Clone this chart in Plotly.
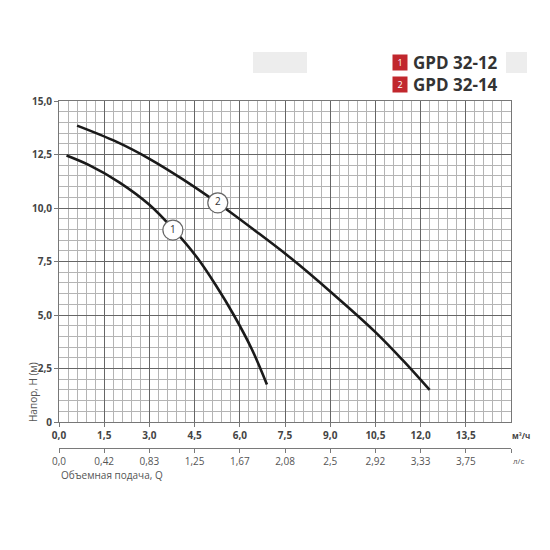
import plotly.graph_objects as go

# Pump curves: flow Q (m3/h) vs head H (m)
q_gpd3212 = [0.25, 1.0, 2.0, 3.0, 3.8, 4.6, 5.2, 5.8, 6.4, 6.9]
h_gpd3212 = [12.45, 12.0, 11.2, 10.15, 9.0, 7.65, 6.4, 5.0, 3.4, 1.75]

q_gpd3214 = [0.6, 1.9, 3.0, 4.1, 5.3, 6.5, 7.7, 9.0, 10.5, 11.4, 12.3]
h_gpd3214 = [13.85, 13.1, 12.3, 11.35, 10.2, 8.95, 7.65, 6.1, 4.2, 2.9, 1.5]

curve_names = ['GPD 32-12', 'GPD 32-14']
label_q = [3.78, 5.27]
label_h = [8.97, 10.24]

x_ticks = [0, 1.5, 3.0, 4.5, 6.0, 7.5, 9.0, 10.5, 12.0, 13.5]
x_labels = ['0,0', '1,5', '3,0', '4,5', '6,0', '7,5', '9,0', '10,5', '12,0', '13,5']
ls_labels = ['0,0', '0,42', '0,83', '1,25', '1,67', '2,08', '2,5', '2,92', '3,33', '3,75']
y_ticks = [0, 2.5, 5.0, 7.5, 10.0, 12.5, 15.0]
y_labels = ['0', '2,5', '5,0', '7,5', '10,0', '12,5', '15,0']

RED = '#c1272d'
TXT = '#444444'
FONT = 'Open Sans'
SCALE_GREY = '#7a7a7a'


# page pixel -> paper coordinates (page body has an 8px offset)
def px(sx):
    return (sx - 59) / 452


def py(sy):
    return (478 - sy) / 377


data = []
data.append(go.Scatter(x=q_gpd3212, y=h_gpd3212, mode='lines', line_shape='spline',
                       line=dict(color='#1a1a1a', width=2.6), showlegend=False))
data.append(go.Scatter(x=q_gpd3214, y=h_gpd3214, mode='lines', line_shape='spline',
                       line=dict(color='#1a1a1a', width=2.6), showlegend=False))
# numbered circles on the curves
data.append(go.Scatter(x=label_q, y=label_h, mode='markers+text', text=['1', '2'],
                       textposition='middle center',
                       textfont=dict(family=FONT, size=10, color='#333333'),
                       marker=dict(size=20, color='white', line=dict(color='#666666', width=1.2)),
                       showlegend=False))
# thin helper subplot that carries the l/s scale
data.append(go.Scatter(x=[x_ticks[0], x_ticks[-1]], y=[0.5, 0.5], xaxis='x2', yaxis='y2',
                       mode='markers', marker=dict(opacity=0), showlegend=False,
                       hoverinfo='skip'))

layout = {
    'width': 542, 'height': 542,
    'margin': dict(l=51, r=39, t=93, b=72),
    'plot_bgcolor': 'white', 'paper_bgcolor': 'white',
    'font': dict(family=FONT, color=TXT),
    'xaxis': dict(range=[0, 15], tickvals=x_ticks, ticktext=x_labels,
                  tickfont=dict(size=10, family=FONT, weight='bold'),
                  showgrid=True, gridcolor='#666666', gridwidth=1,
                  minor=dict(dtick=0.3, tick0=0, showgrid=True, gridcolor='#b4b4b4', gridwidth=1),
                  showline=True, linecolor='#777777', mirror=True,
                  ticks='outside', ticklen=4, tickcolor='#777777', zeroline=False,
                  anchor='y'),
    'yaxis': dict(range=[0, 15], domain=[py(422), 1], tickvals=y_ticks, ticktext=y_labels,
                  tickfont=dict(size=10, family=FONT, weight='bold'),
                  showgrid=True, gridcolor='#666666', gridwidth=1,
                  minor=dict(dtick=0.5, tick0=0, showgrid=True, gridcolor='#b4b4b4', gridwidth=1),
                  showline=True, linecolor='#777777', mirror=True,
                  ticks='outside', ticklen=4, tickcolor='#777777', zeroline=False),
    'xaxis2': dict(range=[0, 15], tickvals=x_ticks + [15], ticktext=ls_labels + [''],
                   anchor='y2', side='bottom',
                   tickfont=dict(size=10, family=FONT, color='#555555'),
                   showgrid=False, showline=True, linecolor=SCALE_GREY, linewidth=1.3,
                   ticks='outside', ticklen=4, tickcolor=SCALE_GREY, tickwidth=1.2,
                   zeroline=False),
    'yaxis2': dict(range=[0, 1], domain=[py(448), py(446)], visible=False, anchor='x2'),
    'annotations': [
        dict(text='Напор, H (м)', textangle=-90, xref='paper', yref='paper',
             x=px(42), y=py(424), xanchor='right', yanchor='bottom', showarrow=False,
             font=dict(size=10, color='#555555')),
        dict(text='м³/ч', xref='paper', yref='paper', x=px(510), y=py(435), xanchor='left',
             yanchor='middle', showarrow=False, font=dict(size=8, color=TXT, weight='bold')),
        dict(text='л/с', xref='paper', yref='paper', x=px(511), y=py(460), xanchor='left',
             yanchor='middle', showarrow=False, font=dict(size=8, color='#555555')),
        dict(text='Объемная подача, Q', xref='paper', yref='paper', x=px(59), y=py(475),
             xanchor='left', yanchor='middle', showarrow=False,
             font=dict(size=10, color='#555555')),
    ],
    'shapes': [
        dict(type='rect', xref='paper', yref='paper', x0=px(253), x1=px(307),
             y0=py(73), y1=py(52), fillcolor='#ededed', line_width=0, layer='below'),
        dict(type='rect', xref='paper', yref='paper', x0=px(506), x1=px(527),
             y0=py(73), y1=py(52), fillcolor='#ededed', line_width=0, layer='below'),
    ],
}

# legend: red numbered squares with model names
for i, name in enumerate(curve_names):
    yc = py(62 + 23 * i)
    layout['annotations'].append(dict(text=str(i + 1), xref='paper', yref='paper',
                                      x=px(400), y=yc, xanchor='center', yanchor='middle',
                                      showarrow=False, bgcolor=RED, width=12, height=13,
                                      font=dict(size=9, color='white')))
    layout['annotations'].append(dict(text=name, xref='paper', yref='paper',
                                      x=px(411), y=yc, xanchor='left', yanchor='middle',
                                      showarrow=False,
                                      font=dict(size=17, color='#333333', weight='bold')))

fig = go.Figure(data=data, layout=layout)
fig.write_html('out.html')
